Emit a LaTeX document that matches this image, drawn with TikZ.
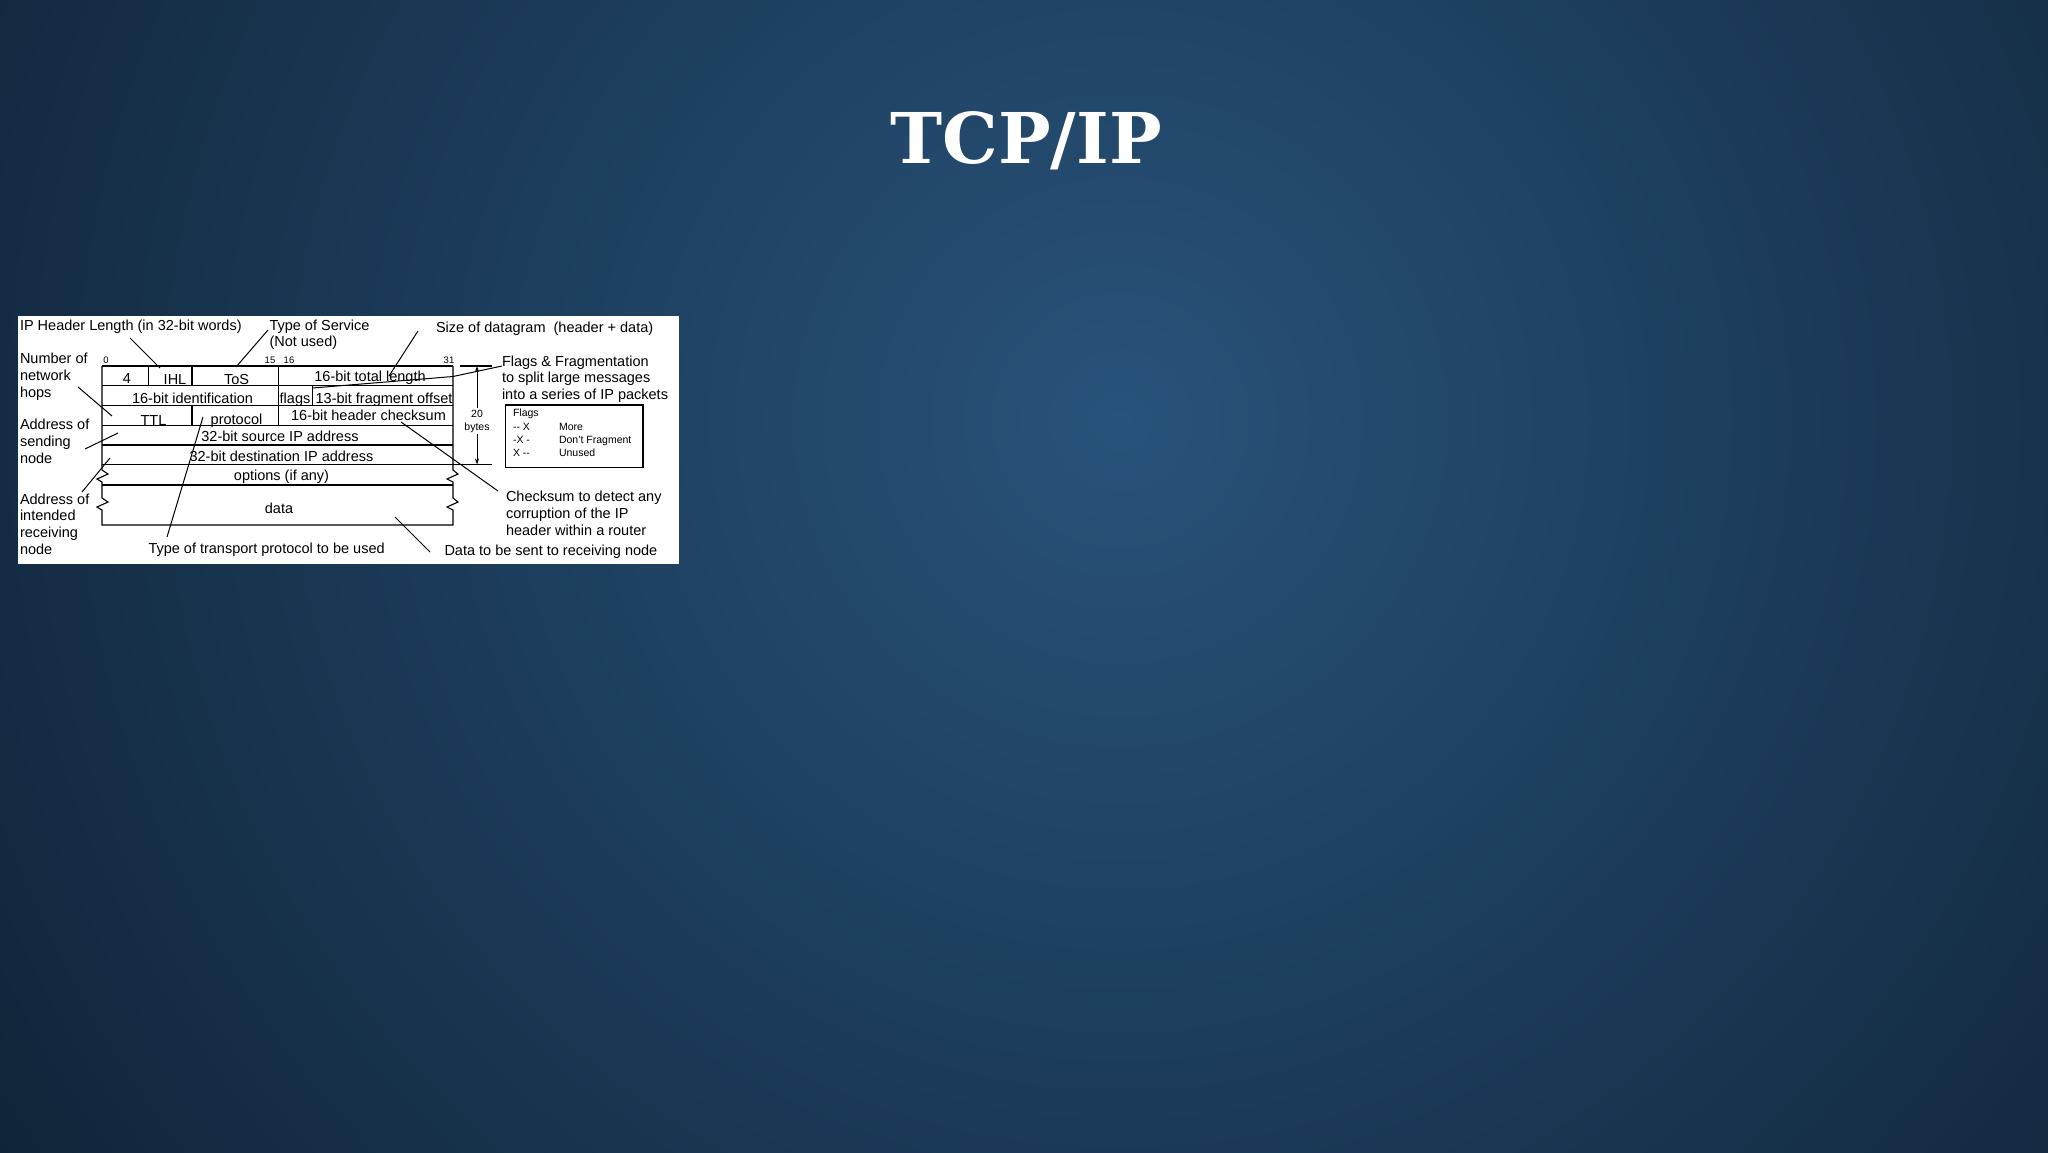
\documentclass[tikz,border=0pt]{standalone}
\usepackage{fontspec}
\setmainfont{Liberation Sans}
\newfontfamily\titlefont{DejaVu Serif}
\usetikzlibrary{arrows.meta}
\definecolor{bgc}{RGB}{40,83,122}
\definecolor{bgm}{RGB}{30,64,96}
\definecolor{bgd}{RGB}{15,34,53}
\definecolor{bge}{RGB}{9,20,32}
\definecolor{bgo}{RGB}{7,16,26}
\definecolor{titlecol}{RGB}{255,255,255}
\pgfdeclareradialshading{bgshade}{\pgfpoint{0bp}{0bp}}{color(0bp)=(bgc); color(10bp)=(bgm); color(26bp)=(bgd); color(40bp)=(bge); color(50bp)=(bgo)}
\begin{document}
\begin{tikzpicture}[x=1pt,y=-1pt,
  lbl/.style={inner sep=0pt, outer sep=0pt, font=\fontsize{14.5}{16.8}\selectfont, text=black, align=left},
  cell/.style={inner sep=0pt, outer sep=0pt, font=\fontsize{14.5}{16.8}\selectfont, text=black},
  bitnum/.style={inner sep=0pt, outer sep=0pt, font=\fontsize{9.5}{10}\selectfont, text=black},
  small/.style={inner sep=0pt, outer sep=0pt, font=\fontsize{10.5}{12}\selectfont, text=black},
  grid/.style={line width=1.1pt, black},
  leader/.style={line width=1pt, black}]
\useasboundingbox (0,0) rectangle (2048,1152);
% background
\fill[bgo] (0,0) rectangle (2048,1152);
\begin{scope}
\clip (0,0) rectangle (2048,1152);
\shade[shading=bgshade] (1120,420) circle (1350pt);
\end{scope}
% title
\node[anchor=base, inner sep=0pt, text=titlecol, font=\titlefont\bfseries\fontsize{70}{72}\selectfont] (title) at (1026,163) {TCP/IP};
% white panel
\fill[white] (18,316) rectangle (679,564);
% table grid
\draw[grid] (102,366) -- (453,366);
\draw[grid] (102,385.5) -- (453,385.5);
\draw[grid] (102,405.5) -- (453,405.5);
\draw[grid] (102,425.5) -- (453,425.5);
\draw[grid] (102,445) -- (453,445);
\draw[grid] (102,464.5) -- (492,464.5);
\draw[grid] (102,485) -- (453,485);
\draw[grid,line join=miter] (102,366) -- (102,470) -- (108,474) -- (97,479) -- (102,482) -- (102,498) -- (108,502) -- (97,507) -- (102,510) -- (102,525) -- (453,525) -- (453,510) -- (447,507) -- (458,502) -- (453,498) -- (453,482) -- (447,479) -- (458,474) -- (453,470) -- (453,366);
\draw[grid] (148.5,366) -- (148.5,385.5);
\draw[grid] (192,366) -- (192,385.5);
\draw[grid] (192,405.5) -- (192,425.5);
\draw[grid] (278.5,366) -- (278.5,425.5);
\draw[grid] (312.5,385.5) -- (312.5,405.5);
% bit numbers
\node[bitnum, anchor=base] (b0) at (106,363.5) {0};
\node[bitnum, anchor=base] (b15) at (270,363.5) {15};
\node[bitnum, anchor=base] (b16) at (289,363.5) {16};
\node[bitnum, anchor=base] (b31) at (449,363.5) {31};
% cell texts
\node[cell, anchor=base] (c4) at (127,383) {4};
\node[cell, anchor=base] (cihl) at (175,384.5) {IHL};
\node[cell, anchor=base] (ctos) at (236.5,384) {ToS};
\node[cell, anchor=base] (ctot) at (370,381.5) {16-bit total length};
\node[cell, anchor=base] (cid) at (192.5,403.5) {16-bit identification};
\node[cell, anchor=base] (cflags) at (295,403) {flags};
\node[cell, anchor=base] (cfrag) at (384,403) {13-bit fragment offset};
\node[cell, anchor=base] (cttl) at (153.5,425) {TTL};
\node[cell, anchor=base] (cproto) at (236.5,424) {protocol};
\node[cell, anchor=base] (ccheck) at (368.5,420) {16-bit header checksum};
\node[cell, anchor=base] (csrc) at (280,441.5) {32-bit source IP address};
\node[cell, anchor=base] (cdst) at (281.5,461) {32-bit destination IP address};
\node[cell, anchor=base] (copt) at (281.5,480) {options (if any)};
\node[cell, anchor=base] (cdata) at (279,513) {data};
% 20 bytes dimension
\draw[grid] (460,366) -- (492,366);
\coordinate (dimtop) at (477,366);
\coordinate (dimbot) at (477,464.5);
\draw[line width=1pt, {Stealth[length=6pt,width=4pt]}-{Stealth[length=6pt,width=4pt]}] (dimtop) -- (dimbot);
\node[small, fill=white, inner sep=1.5pt, align=center] (bytes) at (477,421) {20\\[1pt]bytes};
% flags box
\draw[line width=1.1pt] (505.5,405) rectangle (643,467.5);
\node[small, anchor=base west] (fl) at (513,416) {Flags};
\node[small, anchor=base west] (fl1) at (513,430) {-{}- X};
\node[small, anchor=base west] (fl2) at (513,443.5) {-X -};
\node[small, anchor=base west] (fl3) at (513,456.5) {X -{}-};
\node[small, anchor=base west] (fm1) at (559,430) {More};
\node[small, anchor=base west] (fm2) at (559,443.5) {Don't Fragment};
\node[small, anchor=base west] (fm3) at (559,456.5) {Unused};
% labels (base west = baseline of last line)
\node[lbl, anchor=base west] (hdr) at (20,330) {IP Header Length (in 32-bit words)};
\node[lbl, anchor=base west] (tosl) at (269.5,346.8) {Type of Service\\(Not used)};
\node[lbl, anchor=base west] (size) at (436,332) {Size of datagram\hspace{4pt} (header + data)};
\node[lbl, anchor=base west] (hops) at (20,397) {Number of\\network\\hops};
\node[lbl, anchor=base west] (send) at (20,463.5) {Address of\\sending\\node};
\node[lbl, anchor=base west] (recv) at (20,554.5) {Address of\\intended\\receiving\\node};
\node[lbl, anchor=base west] (transp) at (148.5,553.5) {Type of transport protocol to be used};
\node[lbl, anchor=base west] (dsent) at (444.5,555.5) {Data to be sent to receiving node};
\node[lbl, anchor=base west] (ffrag) at (502,399.6) {Flags \& Fragmentation\\to split large messages\\into a series of IP packets};
\node[lbl, anchor=base west] (cks) at (506,535) {Checksum to detect any\\corruption of the IP\\header within a router};
% leader lines
\coordinate (hdrA) at (130,338); \coordinate (ihlB) at (160,368);
\coordinate (tosA) at (268,330); \coordinate (tosB) at (236,367);
\coordinate (sizeA) at (418,331); \coordinate (sizeB) at (389,376);
\coordinate (hopsA) at (78,387); \coordinate (hopsB) at (112,416);
\coordinate (sendA) at (85,449); \coordinate (sendB) at (118,433);
\coordinate (recvA) at (82,492); \coordinate (recvB) at (110,458);
\coordinate (trA) at (167,537); \coordinate (trB) at (203,417);
\coordinate (ffA) at (502,366); \coordinate (ffM) at (453,376.5); \coordinate (ffB) at (312.5,388);
\coordinate (ckA) at (498,491); \coordinate (ckB) at (401,422);
\coordinate (dsA) at (430,552); \coordinate (dsB) at (395,517);
\draw[leader] (hdrA) -- (ihlB);
\draw[leader] (tosA) -- (tosB);
\draw[leader] (sizeA) -- (sizeB);
\draw[leader] (hopsA) -- (hopsB);
\draw[leader] (sendA) -- (sendB);
\draw[leader] (recvA) -- (recvB);
\draw[leader] (trA) -- (trB);
\draw[leader] (ffA) -- (ffM) -- (ffB);
\draw[leader] (ckA) -- (ckB);
\draw[leader] (dsA) -- (dsB);
\end{tikzpicture}
\end{document}
